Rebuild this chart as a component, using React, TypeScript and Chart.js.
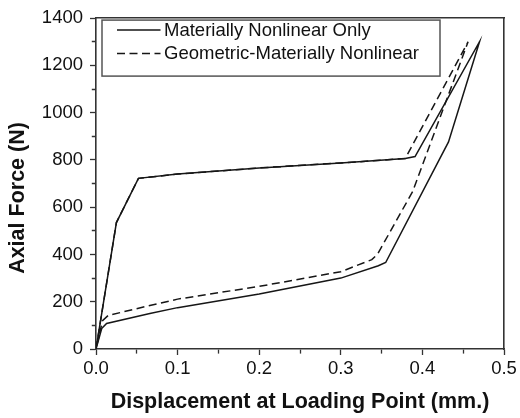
import React, { useEffect, useRef } from "react";
import { Chart, registerables } from "chart.js";

Chart.register(...registerables);

// ---- data ----
const seriesNames = ["Materially Nonlinear Only", "Geometric-Materially Nonlinear"];

const matDisp = [0, 0.025, 0.052, 0.1, 0.2, 0.3, 0.379, 0.391, 0.47, 0.432, 0.355, 0.346, 0.3, 0.2, 0.1, 0.066, 0.013, 0.007, 0];
const matForce = [0, 535, 722, 740, 766, 787, 806, 814, 1300, 876, 366, 352, 300, 233, 175, 150, 108, 87, 0];

const geoDisp = [0, 0.025, 0.052, 0.1, 0.2, 0.3, 0.379, 0.456, 0.388, 0.345, 0.338, 0.3, 0.2, 0.1, 0.066, 0.015, 0.008, 0];
const geoForce = [0, 535, 722, 740, 766, 787, 806, 1300, 666, 401, 378, 327, 265, 211, 184, 142, 120, 0];

const xTickLabels = ["0.0", "0.1", "0.2", "0.3", "0.4", "0.5"];
const yTickLabels = ["0", "200", "400", "600", "800", "1000", "1200", "1400"];

const xTitle = "Displacement at Loading Point (mm.)";
const yTitle = "Axial Force (N)";

// ---- styles ----
const FONT = "'Liberation Sans', Arial, Helvetica, sans-serif";
const INK = "#161616";
const FRAME = "#333333";

function labelFor(labels: string[], v: number): string {
  for (const l of labels) {
    if (Math.abs(Number(l) - v) < 1e-6) return l;
  }
  return "";
}

function toPoints(xs: number[], ys: number[]) {
  return xs.map((x, i) => ({ x, y: ys[i] }));
}

const overlayPlugin = {
  id: "overlay",
  afterDraw(chart: any) {
    const ctx = chart.ctx as CanvasRenderingContext2D;
    const area = chart.chartArea;

    // y-axis title
    ctx.save();
    ctx.font = `bold 21.5px ${FONT}`;
    ctx.fillStyle = "#111";
    ctx.textAlign = "center";
    ctx.textBaseline = "middle";
    ctx.translate(18, 198);
    ctx.rotate(-Math.PI / 2);
    ctx.fillText(yTitle, 0, 0);
    ctx.restore();

    // legend box inside plot
    const bx = area.left + 6;
    const by = area.top + 2;
    const bw = 338;
    const bh = 56;
    ctx.save();
    ctx.fillStyle = "#fff";
    ctx.fillRect(bx, by, bw, bh);
    ctx.strokeStyle = "#555";
    ctx.lineWidth = 1.5;
    ctx.strokeRect(bx, by, bw, bh);
    const rows = [by + 10, by + 33.3];
    chart.data.datasets.forEach((ds: any, i: number) => {
      const yy = rows[i];
      ctx.beginPath();
      ctx.setLineDash(ds.borderDash || []);
      ctx.strokeStyle = INK;
      ctx.lineWidth = 1.5;
      ctx.moveTo(bx + 15, yy);
      ctx.lineTo(bx + 58.5, yy);
      ctx.stroke();
      ctx.setLineDash([]);
      ctx.font = `18.5px ${FONT}`;
      ctx.fillStyle = "#111";
      ctx.textAlign = "left";
      ctx.textBaseline = "middle";
      ctx.fillText(ds.label, bx + 62, yy + 0.5);
    });
    ctx.restore();
  },
};

function minorDash(isMinor: boolean, reverse: boolean) {
  if (!isMinor) return [];
  return reverse ? [0, 1.8, 4, 100] : [4, 100];
}

export default function App() {
  const ref = useRef<HTMLCanvasElement | null>(null);

  useEffect(() => {
    if (!ref.current) return;
    const chart = new Chart(ref.current, {
      type: "scatter",
      data: {
        datasets: [
          {
            label: seriesNames[0],
            data: toPoints(matDisp, matForce),
            showLine: true,
            borderColor: INK,
            backgroundColor: INK,
            borderWidth: 1.5,
            pointRadius: 0,
            tension: 0,
          },
          {
            label: seriesNames[1],
            data: toPoints(geoDisp, geoForce),
            showLine: true,
            borderColor: INK,
            backgroundColor: INK,
            borderWidth: 1.5,
            borderDash: [8, 4.5],
            pointRadius: 0,
            tension: 0,
          },
        ],
      },
      options: {
        responsive: false,
        animation: false,
        layout: { padding: { top: 15, right: 16, left: 0, bottom: 0 } },
        plugins: { legend: { display: false }, tooltip: { enabled: false } },
        scales: {
          x: {
            type: "linear",
            position: "bottom",
            min: 0,
            max: 0.5,
            afterFit: (s: any) => {
              s.height = 69;
            },
            ticks: {
              stepSize: 0.05,
              autoSkip: false,
              maxRotation: 0,
              padding: 3,
              color: "#111",
              font: { family: FONT, size: 18.5 },
              callback: (v: any) => labelFor(xTickLabels, Number(v)),
            },
            grid: {
              display: true,
              drawOnChartArea: false,
              drawTicks: true,
              tickLength: 6,
              tickWidth: 1.3,
              tickColor: FRAME,
              tickBorderDash: (c: any) =>
                minorDash(c.tick && labelFor(xTickLabels, c.tick.value) === "", false),
            },
            border: { display: true, color: FRAME, width: 1.6 },
            title: {
              display: true,
              text: xTitle,
              color: "#111",
              font: { family: FONT, size: 21.5, weight: "bold" },
              padding: { top: 0, bottom: 3 },
            },
          },
          y: {
            type: "linear",
            position: "left",
            min: 0,
            max: 1400,
            afterFit: (s: any) => {
              s.width = 96;
            },
            ticks: {
              stepSize: 100,
              autoSkip: false,
              padding: 7,
              color: "#111",
              font: { family: FONT, size: 18.5 },
              callback: (v: any) => labelFor(yTickLabels, Number(v)),
            },
            grid: {
              display: true,
              drawOnChartArea: false,
              drawTicks: true,
              tickLength: 6,
              tickWidth: 1.3,
              tickColor: FRAME,
              tickBorderDash: (c: any) =>
                minorDash(c.tick && labelFor(yTickLabels, c.tick.value) === "", true),
            },
            border: { display: true, color: FRAME, width: 1.6 },
          },
          x2: {
            type: "linear",
            position: "top",
            display: true,
            min: 0,
            max: 0.5,
            afterFit: (s: any) => {
              s.height = 0;
            },
            ticks: { display: false },
            grid: { display: true, drawOnChartArea: false, drawTicks: false },
            border: { display: true, color: FRAME, width: 1.6 },
          },
          y2: {
            type: "linear",
            position: "right",
            display: true,
            min: 0,
            max: 1400,
            afterFit: (s: any) => {
              s.width = 0;
            },
            ticks: { display: false },
            grid: { display: true, drawOnChartArea: false, drawTicks: false },
            border: { display: true, color: FRAME, width: 1.6 },
          },
        },
      } as any,
      plugins: [overlayPlugin],
    });
    return () => chart.destroy();
  }, []);

  return (
    <div style={{ position: "absolute", left: 0, top: 0, width: 520, height: 418, background: "#fff" }}>
      <canvas ref={ref} width={520} height={418} style={{ display: "block" }} />
    </div>
  );
}
